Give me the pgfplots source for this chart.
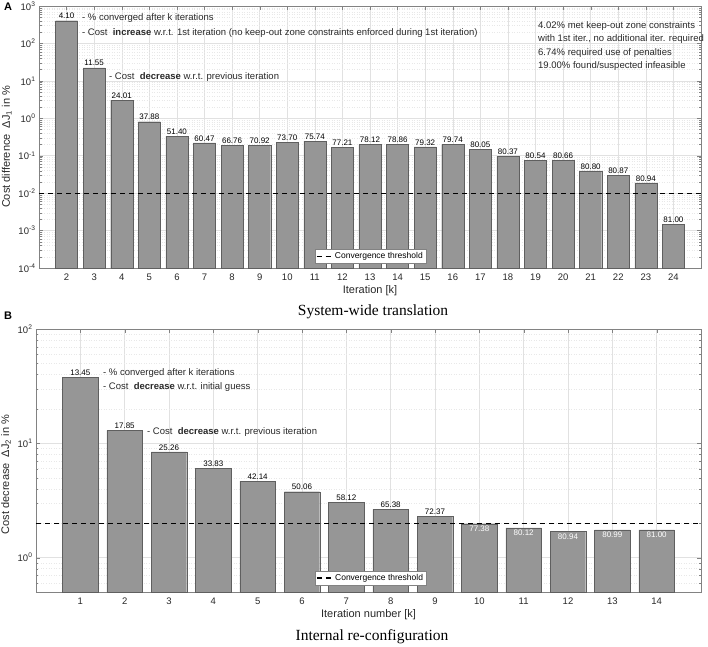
\documentclass[border=0pt]{standalone}
\usepackage{pgfplots}
\pgfplotsset{compat=1.18}
\usepackage{pgfplotstable}
\usepackage{fontspec}
\setmainfont{Liberation Sans}
\newfontfamily\seriffont{Liberation Serif}
\definecolor{barfill}{RGB}{150,150,150}
\definecolor{baredge}{RGB}{95,95,95}
\definecolor{gridc}{RGB}{225,225,225}
\definecolor{mgridc}{RGB}{232,232,232}
\definecolor{axc}{RGB}{130,130,130}
\definecolor{txtc}{RGB}{40,40,40}

\pgfplotstableread{
k val lab
2 404 4.10
3 22.4 11.55
4 3.07 24.01
5 0.81 37.88
6 0.334 51.40
7 0.221 60.47
8 0.188 66.76
9 0.192 70.92
10 0.231 73.70
11 0.245 75.74
12 0.17 77.21
13 0.20 78.12
14 0.20 78.86
15 0.173 79.32
16 0.20 79.74
17 0.15 80.05
18 0.098 80.37
19 0.076 80.54
20 0.075 80.66
21 0.0395 80.80
22 0.030 80.87
23 0.0188 80.94
24 0.00148 81.00
}\tableA

\pgfplotstableread{
k val lab
1 37.7 13.45
2 13.0 17.85
3 8.4 25.26
4 6.0 33.83
5 4.67 42.14
6 3.77 50.06
7 3.05 58.12
8 2.64 65.38
9 2.29 72.37
}\tableBa

\pgfplotstableread{
k val lab
10 1.98 77.38
11 1.82 80.12
12 1.69 80.94
13 1.75 80.99
14 1.75 81.00
}\tableBb

\pgfplotsset{
  every axis/.append style={
  scale only axis,
  axis line style={axc}, tick style={axc},
  major tick length=4pt, minor tick length=2.5pt,
  grid=both, major grid style={gridc, line width=0.5pt},
  minor grid style={mgridc, dash pattern=on 1pt off 1.5pt, line width=0.4pt},
  tick label style={font=\fontsize{9.5}{10}\selectfont, text=txtc},
  xticklabel style={yshift=-2.5pt},
  /pgf/number format/assume math mode=true,
  label style={font=\fontsize{11}{12}\selectfont, text=txtc},
  xlabel style={yshift=2pt},
  legend style={font=\fontsize{8.5}{9}\selectfont, draw=axc, fill=white,
     inner sep=1pt, outer sep=0pt},
  legend cell align=left},
  legend image code/.code={\draw[#1] (0pt,0pt) -- (0.55cm,0pt);}
}

\begin{document}
\begin{tikzpicture}
\path[use as bounding box] (0,0) rectangle (708pt,-646pt);

% ---------------- Panel A ----------------
\begin{axis}[at={(39pt,-6pt)}, anchor=north west,
  width=662pt, height=262pt,
  ymode=log, log origin y=infty,
  xmin=1, xmax=25, ymin=1e-4, ymax=1e3,
  xtick={2,...,24},
  ytick={1e-4,1e-3,1e-2,1e-1,1,10,100,1000},
  yticklabels={10\textsuperscript{-4},10\textsuperscript{-3},10\textsuperscript{-2},10\textsuperscript{-1},10\textsuperscript{0},10\textsuperscript{1},10\textsuperscript{2},10\textsuperscript{3}},
  minor ytick={2e-4,3e-4,4e-4,5e-4,6e-4,7e-4,8e-4,9e-4,2e-3,3e-3,4e-3,5e-3,6e-3,7e-3,8e-3,9e-3,0.02,0.03,0.04,0.05,0.06,0.07,0.08,0.09,0.2,0.3,0.4,0.5,0.6,0.7,0.8,0.9,2,3,4,5,6,7,8,9,20,30,40,50,60,70,80,90,200,300,400,500,600,700,800,900},
  xlabel={Iteration [k]},
  ylabel={Cost difference\ \ ΔJ\textsubscript{1} in \%},
  ylabel style={xshift=-10pt},
  legend style={at={(0.417,0.019)}, anchor=south west}]
\addplot[ybar, bar width=0.8, fill=barfill, draw=baredge, forget plot] table[x=k, y=val] {\tableA};
\addplot[draw=none, forget plot, nodes near coords, point meta=explicit symbolic,
  nodes near coords style={font=\fontsize{8}{9}\selectfont, anchor=south, inner sep=1.5pt, text=black}]
  table[x=k, y=val, meta=lab] {\tableA};
\addplot[black, line width=1.2pt, dash pattern=on 5pt off 4pt] coordinates {(1,0.01) (25,0.01)};
\addlegendentry{Convergence threshold}
\end{axis}

% ---------------- Panel B ----------------
\begin{axis}[at={(36pt,-329pt)}, anchor=north west,
  width=665pt, height=263pt,
  ymode=log, log origin y=infty,
  xmin=0, xmax=15, ymin=0.5, ymax=100,
  xtick={1,...,14},
  ytick={1,10,100},
  yticklabels={10\textsuperscript{0},10\textsuperscript{1},10\textsuperscript{2}},
  minor ytick={0.6,0.7,0.8,0.9,2,3,4,5,6,7,8,9,20,30,40,50,60,70,80,90},
  xlabel={Iteration number [k]},
  ylabel={Cost decrease\ \ ΔJ\textsubscript{2} in \%},
  ylabel style={xshift=-14pt},
  legend style={at={(0.42,0.027)}, anchor=south west}]
\addplot[ybar, bar width=0.8, fill=barfill, draw=baredge, forget plot] table[x=k, y=val] {\tableBa};
\addplot[ybar, bar width=0.8, fill=barfill, draw=baredge, forget plot] table[x=k, y=val] {\tableBb};
\addplot[draw=none, forget plot, nodes near coords, point meta=explicit symbolic,
  nodes near coords style={font=\fontsize{8}{9}\selectfont, anchor=south, inner sep=1.5pt, text=black}]
  table[x=k, y=val, meta=lab] {\tableBa};
\addplot[draw=none, forget plot, nodes near coords, point meta=explicit symbolic,
  nodes near coords style={font=\fontsize{8}{9}\selectfont, anchor=north, inner sep=2pt, text=white}]
  table[x=k, y=val, meta=lab] {\tableBb};
\addplot[black, line width=1.2pt, dash pattern=on 5pt off 4pt] coordinates {(0,2) (15,2)};
\addlegendentry{Convergence threshold}
\end{axis}

% ---------------- Texts ----------------
\begin{scope}[every node/.style={inner sep=0pt, text=txtc, font=\fontsize{9.5}{11}\selectfont}]
\node[anchor=west] at (82pt,-18pt) {- \% converged after k iterations};
\node[anchor=west] at (82pt,-33pt) {- Cost\ \ \textbf{increase} w.r.t. 1st iteration (no keep-out zone constraints enforced during 1st iteration)};
\node[anchor=west] at (109pt,-77pt) {- Cost\ \ \textbf{decrease} w.r.t. previous iteration};
\node[anchor=west] at (538pt,-26pt) {4.02\% met keep-out zone constraints};
\node[anchor=west] at (538pt,-39.5pt) {with 1st iter., no additional iter. required};
\node[anchor=west] at (538pt,-53pt) {6.74\% required use of penalties};
\node[anchor=west] at (538pt,-66.5pt) {19.00\% found/suspected infeasible};
\node[anchor=west] at (103pt,-373pt) {- \% converged after k iterations};
\node[anchor=west] at (103pt,-387pt) {- Cost\ \ \textbf{decrease} w.r.t. initial guess};
\node[anchor=west] at (147pt,-432pt) {- Cost\ \ \textbf{decrease} w.r.t. previous iteration};
\end{scope}
\node[font=\bfseries\fontsize{11}{12}\selectfont] at (8pt,-7pt) {A};
\node[font=\bfseries\fontsize{11}{12}\selectfont] at (8pt,-316pt) {B};
\node[font=\seriffont\fontsize{15.5}{17}\selectfont] at (373pt,-312pt) {System-wide translation};
\node[font=\seriffont\fontsize{15.5}{17}\selectfont] at (372pt,-637pt) {Internal re-configuration};
\end{tikzpicture}
\end{document}
